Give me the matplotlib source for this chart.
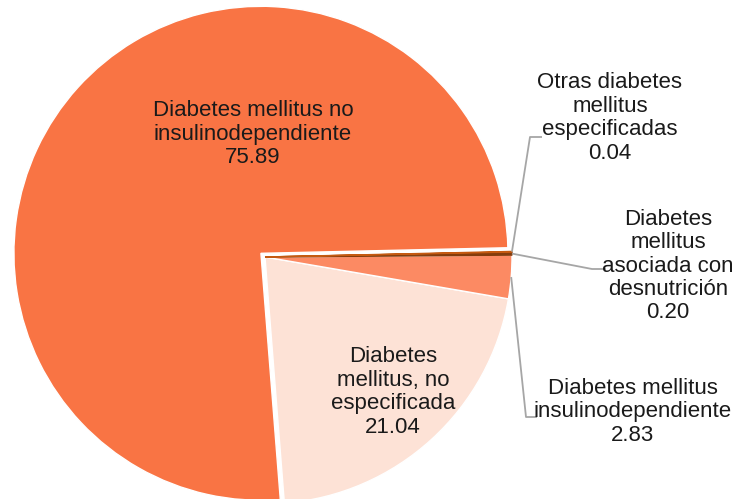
import numpy as np
import matplotlib.pyplot as plt

plt.rcParams['font.family'] = ['Liberation Sans', 'DejaVu Sans']

categories = [
    "Diabetes\nmellitus, no\nespecificada",
    "Diabetes mellitus\ninsulinodependiente",
    "Diabetes\nmellitus\nasociada con\ndesnutrición",
    "Otras diabetes\nmellitus\nespecificadas",
    "Diabetes mellitus no\ninsulinodependiente",
]
values = [21.04, 2.83, 0.20, 0.04, 75.89]
colors = ['#FDE2D6', '#FC8A63', '#843C0C', '#C55A11', '#F97444']

W, H = 735, 499
cx, cy, r = 265, H - 257, 247

fig = plt.figure(figsize=(W / 100, H / 100), dpi=100)
ax = fig.add_axes([0, 0, 1, 1])

# explode is in data units here (pixels)
wedges, _ = ax.pie(values, colors=colors, startangle=-85.5, counterclock=True,
                   center=(cx, cy), radius=r,
                   explode=[0, 0, 0, 0, 5.5],
                   wedgeprops=dict(edgecolor='white', linewidth=1.0))
# the thin slices keep their own colour on the border so they stay visible
for w, v in zip(wedges, values):
    if v < 1:
        w.set_edgecolor(w.get_facecolor())
        w.set_linewidth(1.0)
ax.set_xlim(0, W)
ax.set_ylim(0, H)
ax.axis('off')

# label positions (pixels from top-left) and leader lines for the small slices
label_pos = [(393, 392), (633, 412), (668, 266), (610, 118), (253, 134)]
leader = {1: [(526, 417), (537, 417)], 2: [(592, 269), (606, 269)], 3: [(530, 137), (542, 137)]}

for i, (lab, val) in enumerate(zip(categories, values)):
    x, y = label_pos[i]
    ax.text(x, H - y, f"{lab}\n{val:.2f}", ha='center', va='center',
            fontsize=16, linespacing=1.15, color='#1a1a1a')
    if i in leader:
        w = wedges[i]
        mid = np.deg2rad((w.theta1 + w.theta2) / 2)
        pts = [(cx + r * np.cos(mid), cy + r * np.sin(mid))]
        pts += [(px, H - py) for px, py in leader[i]]
        xs, ys = zip(*pts)
        ax.plot(xs, ys, color='#A6A6A6', lw=1.3, solid_capstyle='butt')

fig.savefig('out.png', dpi=100)
